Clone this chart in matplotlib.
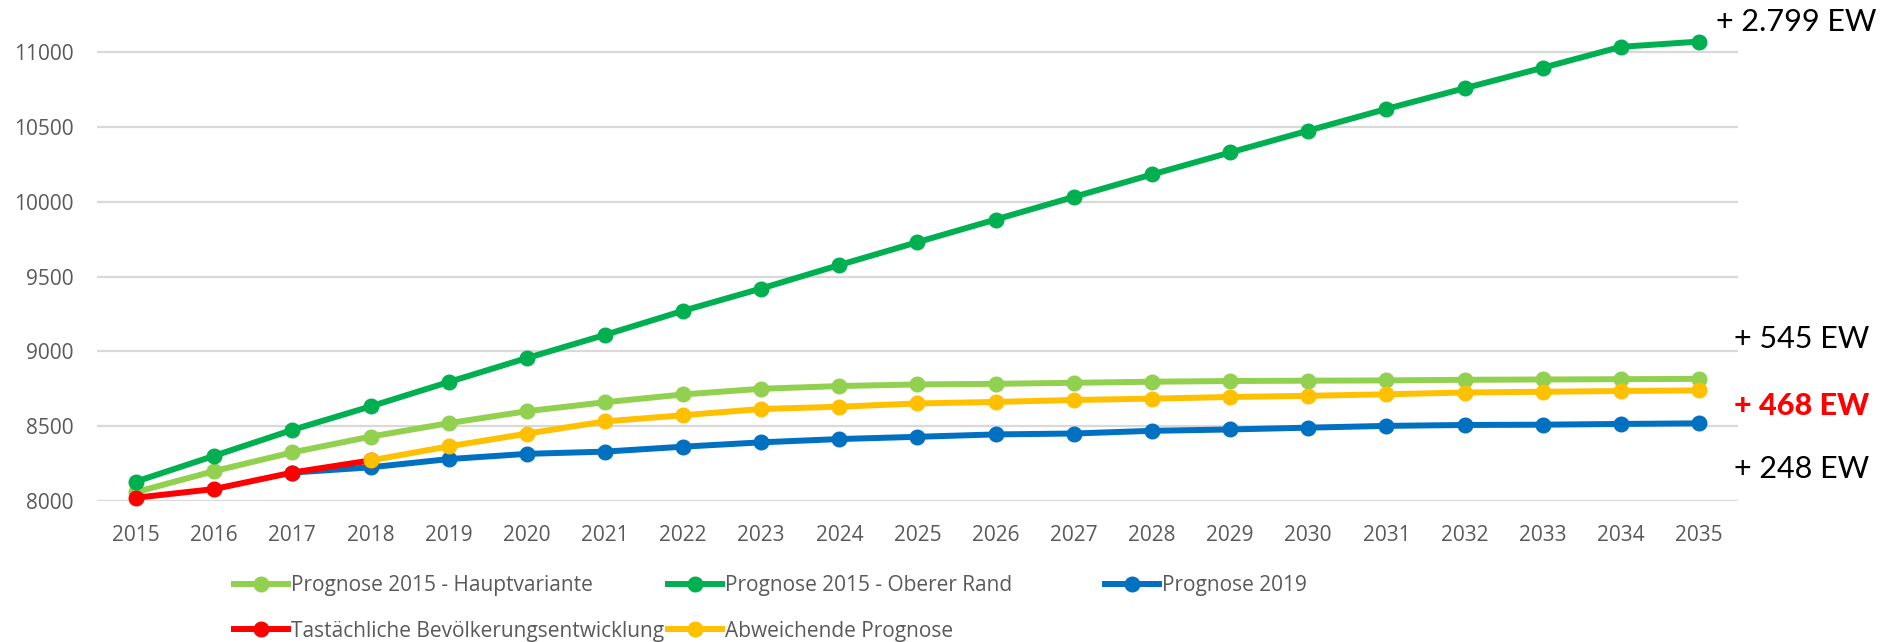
import matplotlib.pyplot as plt
from matplotlib.lines import Line2D

years = list(range(2015, 2036))

# Prognose 2015 - Hauptvariante
haupt = [8060, 8200, 8325, 8430, 8520, 8600, 8660, 8712, 8750, 8768, 8779,
         8783, 8790, 8797, 8802, 8804, 8806, 8810, 8812, 8814, 8816]
# Prognose 2015 - Oberer Rand
oberer = [8130, 8302, 8475, 8632, 8795, 8955, 9110, 9271, 9420, 9577, 9730,
          9881, 10032, 10182, 10329, 10475, 10620, 10758, 10895, 11035, 11070]
# Prognose 2019 (from 2017)
prog2019_years = list(range(2017, 2036))
prog2019 = [8190, 8225, 8280, 8315, 8330, 8363, 8392, 8414, 8429, 8445,
            8451, 8469, 8478, 8490, 8502, 8508, 8510, 8515, 8519]
# actual development 2015-2018
ist_years = [2015, 2016, 2017, 2018]
ist = [8022, 8080, 8190, 8271]
# Abweichende Prognose (from 2018)
abw_years = list(range(2018, 2036))
abw = [8271, 8365, 8450, 8532, 8573, 8615, 8630, 8652, 8662, 8675, 8684,
       8695, 8703, 8713, 8725, 8730, 8735, 8739]

labels = ["Prognose 2015 - Hauptvariante", "Prognose 2015 - Oberer Rand",
          "Prognose 2019", "Tastächliche Bevölkerungsentwicklung",
          "Abweichende Prognose"]
colors = ["#92D050", "#00B050", "#0070C0", "#FF0000", "#FFC000"]

notes = ["+ 2.799 EW", "+ 545 EW", "+ 468 EW", "+ 248 EW"]

W, H = 1898, 642
fig = plt.figure(figsize=(W / 100, H / 100), dpi=100)
ax = fig.add_axes([97 / W, 1 - 501 / H, (1738 - 97) / W, 501 / H])

def idx(ys):
    return [y - 2015 for y in ys]

series = [
    (idx(years), haupt),
    (idx(years), oberer),
    (idx(prog2019_years), prog2019),
    (idx(ist_years), ist),
    (idx(abw_years), abw),
]
for (x, y), lab, c in zip(series, labels, colors):
    ax.plot(x, y, color=c, lw=4.3, marker="o", ms=10.5, label=lab,
            solid_capstyle="round", clip_on=False)

ax.set_xlim(-0.5, 20.5)
ax.set_ylim(8000, 11348)
ax.set_xticks(range(len(years)))
ax.set_xticklabels([str(y) for y in years])
ax.set_yticks(range(8000, 11001, 500))
ax.grid(axis="y", color="#D9D9D9", lw=1.6)
ax.set_axisbelow(True)
for s in ax.spines.values():
    s.set_visible(False)
ax.tick_params(length=0, labelcolor="#595959", labelsize=15)
ax.tick_params(axis="x", pad=17)
ax.tick_params(axis="y", pad=17)
for t in ax.get_xticklabels() + ax.get_yticklabels():
    t.set_fontfamily("Open Sans")

# legend laid out in fixed columns like the original
handles = [Line2D([], [], color=c, lw=4.3, marker="o", ms=10.5) for c in colors]
cols = [(234, [0, 3]), (668, [1, 4]), (1105, [2])]
for x0, ids in cols:
    leg = fig.legend([handles[i] for i in ids], [labels[i] for i in ids],
                     loc="upper left", bbox_to_anchor=(x0 / W, 1 - 575 / H),
                     frameon=False, handlelength=2.6, handletextpad=0.15,
                     labelspacing=1.18, borderpad=0, borderaxespad=0,
                     prop={"family": "Open Sans", "size": 15})
    for t in leg.get_texts():
        t.set_color("#595959")

# change annotations
fig.text(1716 / W, 1 - 22 / H, notes[0], fontsize=22, family="Lato",
         va="center", ha="left", color="black")
fig.text(1734 / W, 1 - 339 / H, notes[1], fontsize=22, family="Lato",
         va="center", ha="left", color="black")
fig.text(1734 / W, 1 - 406 / H, notes[2], fontsize=22, family="Lato",
         weight="black", va="center", ha="left", color="#FF0000")
fig.text(1734 / W, 1 - 469 / H, notes[3], fontsize=22, family="Lato",
         va="center", ha="left", color="black")

fig.savefig("out.png", dpi=100)
